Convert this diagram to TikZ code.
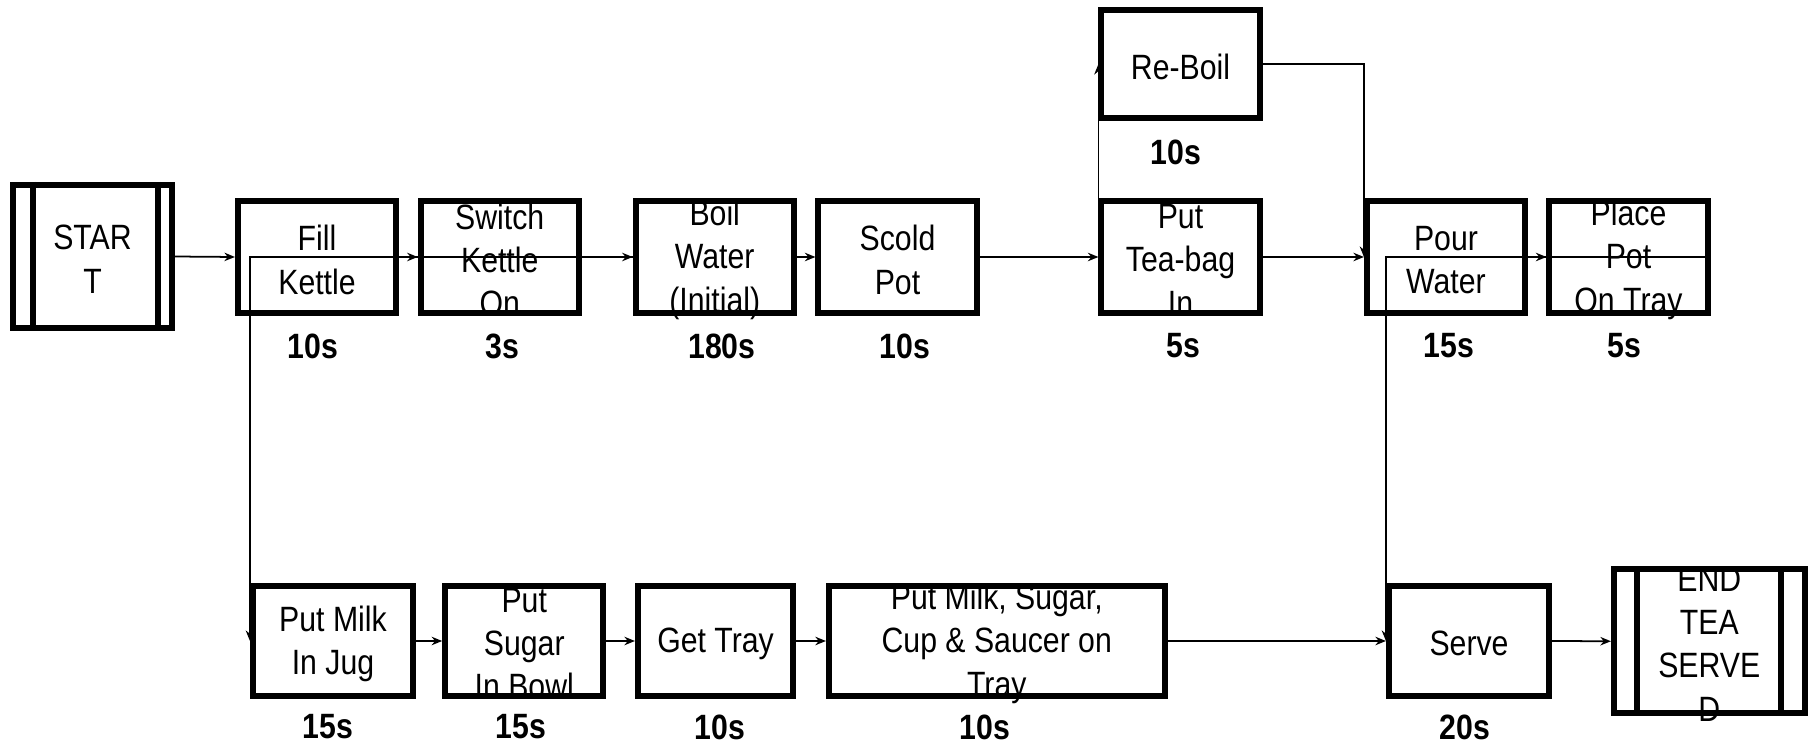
\documentclass[tikz,border=0pt]{standalone}
\usepackage{fontspec}
\setmainfont[FakeStretch=0.86]{Liberation Sans}
\usetikzlibrary{arrows.meta}
\begin{document}
\begin{tikzpicture}[x=0.01cm,y=-0.01cm,
 box/.style={draw, line width=0.06cm, minimum width=1.58cm, minimum height=1.12cm, inner sep=0pt},
 lbox/.style={box, minimum height=1.10cm},
 txt/.style={font=\fontsize{10}{12.3}\selectfont, align=center, inner sep=0pt, yshift=-0.8pt},
 time/.style={font=\fontsize{10}{12}\selectfont\bfseries, inner sep=0pt},
 arr/.style={line width=0.5pt, -{Stealth[length=3pt,width=2.4pt]}},
 sepline/.style={line width=0.06cm}]
\useasboundingbox (0,0) rectangle (1812,746);

% terminal START
\node[box, minimum width=1.58cm, minimum height=1.43cm] (start) at (92.5,256.5) {};
\draw[sepline] ([xshift=0.225cm]start.north west) -- ([xshift=0.225cm]start.south west);
\draw[sepline] ([xshift=-0.165cm]start.north east) -- ([xshift=-0.165cm]start.south east);
\node[txt] (startt) at (start) {STAR\\T};

% top row
\node[box] (fill) at (317,257) {};
\node[txt] (fillt) at (fill) {Fill\\Kettle};
\node[time] (fills) at (313,346) {10s};

\node[box] (switch) at (499.75,257) {};
\node[txt] (switcht) at (switch) {Switch\\Kettle\\On};
\node[time] (switchs) at (502,346) {3s};

\node[box] (boil) at (714.75,257) {};
\node[txt] (boilt) at (boil) {Boil\\Water\\(Initial)};
\node[time] (boils) at (722,346) {180s};

\node[box] (scold) at (897.5,257) {};
\node[txt] (scoldt) at (scold) {Scold\\Pot};
\node[time] (scolds) at (905,346) {10s};

\node[box] (tea) at (1180.5,257) {};
\node[txt] (teat) at (tea) {Put\\Tea-bag\\In};
\node[time] (teas) at (1183,346) {5s};

\node[box, minimum height=1.08cm] (reboil) at (1180.5,64) {};
\node[txt] (reboilt) at (reboil) {Re-Boil};
\node[time] (reboils) at (1176,152) {10s};

\node[box] (pour) at (1446,257) {};
\node[txt] (pourt) at (pour) {Pour\\Water};
\node[time] (pours) at (1449,346) {15s};

\node[box] (place) at (1628.5,257) {};
\node[txt] (placet) at (place) {Place\\Pot\\On Tray};
\node[time] (places) at (1624,346) {5s};

% bottom row
\node[lbox, minimum width=1.60cm] (milk) at (333,641) {};
\node[txt] (milkt) at (milk) {Put Milk\\In Jug};
\node[time] (milks) at (328,727) {15s};

\node[lbox] (sugar) at (524.25,641) {};
\node[txt] (sugart) at (sugar) {Put\\Sugar\\In Bowl};
\node[time] (sugars) at (521,727) {15s};

\node[lbox, minimum width=1.55cm] (tray) at (715.5,641) {};
\node[txt] (trayt) at (tray) {Get Tray};
\node[time] (trays) at (720,727) {10s};

\node[lbox, minimum width=3.355cm] (big) at (996.75,641) {};
\node[txt] (bigt) at (big) {Put Milk, Sugar,\\Cup \& Saucer on\\Tray};
\node[time] (bigs) at (985,727) {10s};

\node[lbox, minimum width=1.60cm] (serve) at (1469,641) {};
\node[txt] (servet) at (serve) {Serve};
\node[time] (serves) at (1465,727) {20s};

% terminal END
\node[box, minimum width=1.905cm, minimum height=1.435cm] (end) at (1709.25,641.25) {};
\draw[sepline] ([xshift=0.26cm]end.north west) -- ([xshift=0.26cm]end.south west);
\draw[sepline] ([xshift=-0.27cm]end.north east) -- ([xshift=-0.27cm]end.south east);
\node[txt] (endt) at (end) {END\\TEA\\SERVE\\D};

% connectors
\draw[arr] (start.east) -- (fill.west);
\draw[arr] (fill.east) -- (switch.west);
\draw[arr] (switch.east) -- (boil.west);
\draw[arr] (boil.west) -- (boil.west -| milk.west) -- (milk.west);
\draw[arr] (boil.east) -- (scold.west);
\draw[arr] (scold.east) -- (tea.west);
\draw[arr] (tea.west) -- (reboil.west);
\draw[arr] (reboil.east) -| (pour.west);
\draw[arr] (tea.east) -- (pour.west);
\draw[arr] (pour.east) -- (place.west);
\draw[arr] (place.east) -- (place.east -| serve.west) -- (serve.west);
\draw[arr] (milk.east) -- (sugar.west);
\draw[arr] (sugar.east) -- (tray.west);
\draw[arr] (tray.east) -- (big.west);
\draw[arr] (big.east) -- (serve.west);
\draw[arr] (serve.east) -- (end.west);
\end{tikzpicture}
\end{document}
